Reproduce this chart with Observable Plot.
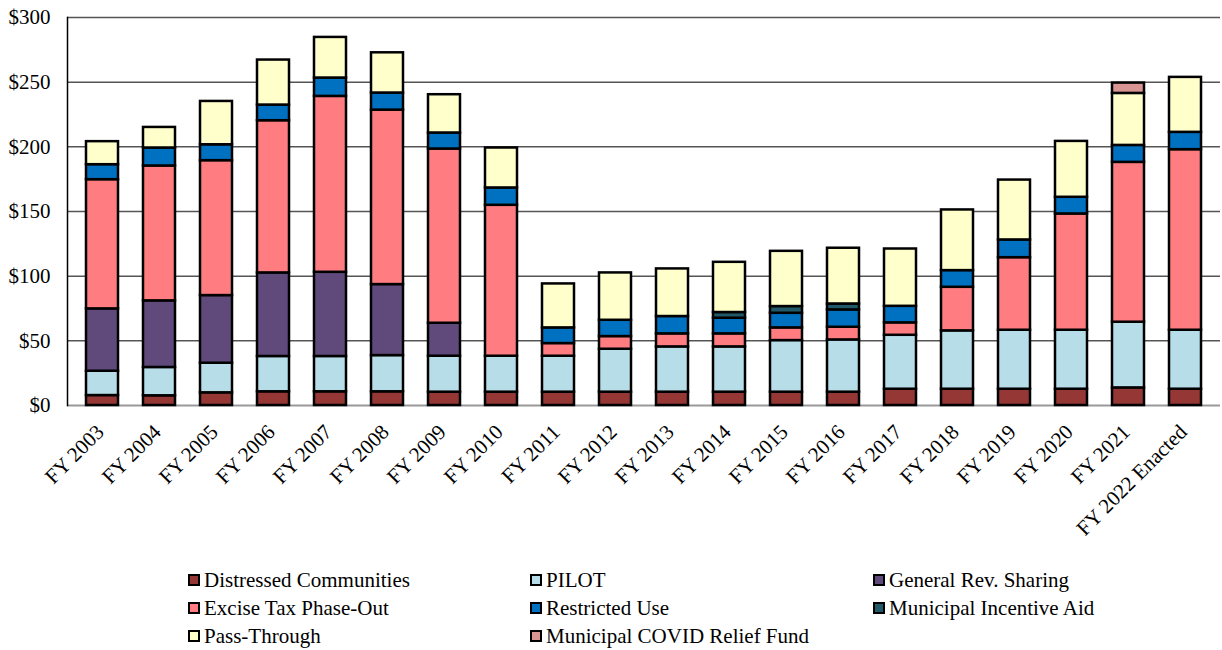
<!DOCTYPE html>
<html>
<head>
<meta charset="utf-8">
<script src="https://cdn.jsdelivr.net/npm/d3@7"></script>
<script src="https://cdn.jsdelivr.net/npm/@observablehq/plot@0.6"></script>
<style>
  body { margin: 0; background: #fff; }
  #wrap { position: relative; width: 1222px; height: 650px; font-family: "Liberation Serif", Tinos, "Times New Roman", "DejaVu Serif", serif; }
  #legend { position: absolute; left: 0; top: 545px; width: 1222px; height: 105px; }
  .item { position: absolute; display: flex; align-items: center; font-size: 21px; color: #000; white-space: nowrap; line-height: 1; }
  .sw { width: 8px; height: 8px; border: 2px solid #000; margin-right: 4px; }
</style>
</head>
<body>
<div id="wrap"><div id="chart"></div><div id="legend"></div></div>
<script>
// Fiscal years on the x axis
const categories = ["FY 2003","FY 2004","FY 2005","FY 2006","FY 2007","FY 2008","FY 2009","FY 2010",
  "FY 2011","FY 2012","FY 2013","FY 2014","FY 2015","FY 2016","FY 2017","FY 2018","FY 2019",
  "FY 2020","FY 2021","FY 2022 Enacted"];

// State aid by program, $ millions (stacked bottom to top)
const distressed = [7.7,7.5,9.8,10.6,10.6,10.6,10.3,10.3,10.3,10.3,10.3,10.3,10.3,10.3,12.6,12.6,12.6,12.6,13.6,12.6];
const pilot      = [18.8,21.9,22.9,27.3,27.3,28.0,27.8,27.8,27.8,33.2,35.0,35.0,39.9,40.4,41.7,45.1,45.6,45.6,50.8,45.6];
const generalRev = [48.2,51.5,52.3,64.6,65.1,54.9,25.5,0,0,0,0,0,0,0,0,0,0,0,0,0];
const exciseTax  = [99.9,104.3,104.3,117.7,136.0,134.9,134.7,116.7,9.8,9.8,10.1,10.1,9.8,9.8,9.6,33.7,56.1,89.9,123.6,139.6];
const restricted = [11.6,13.9,12.3,12.1,14.2,13.2,12.4,13.4,12.1,12.6,13.4,12.1,11.3,13.4,12.8,12.9,13.7,12.9,13.1,13.4];
const incentive  = [0,0,0,0,0,0,0,0,0,0,0,4.4,5.2,4.6,0,0,0,0,0,0];
const passThrough= [17.8,15.9,33.5,34.8,31.4,31.1,29.6,30.9,34.0,36.6,36.8,38.8,42.7,43.1,44.3,46.9,46.3,43.2,40.2,42.5];
const covidRelief= [0,0,0,0,0,0,0,0,0,0,0,0,0,0,0,0,0,0,8.0,0];

const seriesNames = ["Distressed Communities","PILOT","General Rev. Sharing","Excise Tax Phase-Out",
  "Restricted Use","Municipal Incentive Aid","Pass-Through","Municipal COVID Relief Fund"];
const seriesValues = [distressed,pilot,generalRev,exciseTax,restricted,incentive,passThrough,covidRelief];
const seriesColors = ["#953735","#B7DEE8","#604A7B","#FF7C80","#0070C0","#215968","#FFFFCC","#D99594"];

// Legend layout: three columns, row-major
const legendOrder = ["Distressed Communities","PILOT","General Rev. Sharing",
  "Excise Tax Phase-Out","Restricted Use","Municipal Incentive Aid",
  "Pass-Through","Municipal COVID Relief Fund"];

const yTicks = [0,50,100,150,200,250,300];
const serif = '"Liberation Serif", Tinos, "Times New Roman", "DejaVu Serif", serif';

const rows = seriesNames.flatMap((name, s) =>
  categories.map((year, i) => ({year, series: name, value: seriesValues[s][i]}))
).filter(d => d.value > 0);

const chart = Plot.plot({
  width: 1222,
  height: 545,
  marginTop: 17,
  marginBottom: 140,
  marginLeft: 67,
  marginRight: 2,
  style: {fontFamily: serif, fontSize: "21px", color: "#000", background: "#fff"},
  x: {domain: categories, paddingInner: 0.43, paddingOuter: 0.215, label: null, axis: null},
  y: {domain: [0, 300], label: null},
  color: {domain: seriesNames, range: seriesColors},
  marks: [
    Plot.gridY(yTicks.filter(t => t > 0), {stroke: "#555", strokeOpacity: 1, strokeWidth: 1.5}),
    Plot.ruleY([0], {stroke: "#999", strokeWidth: 2}),
    Plot.frame({anchor: "left", stroke: "#000", strokeWidth: 1.5}),
    Plot.barY(rows, {x: "year", y: "value", fill: "series", order: seriesNames,
      stroke: "#000", strokeWidth: 2.5, inset: 0}),
    Plot.axisY({ticks: yTicks, tickSize: 0, tickPadding: 17, tickFormat: d => "$" + d, label: null,
      fontSize: 21, fontFamily: serif}),
    // Slanted fiscal-year labels under each bar
    Plot.text(categories, {x: d => d, frameAnchor: "bottom", rotate: -45, textAnchor: "end",
      lineAnchor: "middle", dx: -2, dy: 23, fontSize: 21, fontFamily: serif, fill: "#000"})
  ]
});
document.getElementById("chart").appendChild(chart);

// Legend below the chart
const colX = [188, 530, 873];
const rowY = [35, 63, 91];
const legend = d3.select("#legend");
legendOrder.forEach((name, k) => {
  const col = k % 3, row = Math.floor(k / 3);
  const item = legend.append("div").attr("class", "item")
    .style("left", colX[col] + "px")
    .style("top", (rowY[row] - 11) + "px")
    .style("height", "22px");
  item.append("div").attr("class", "sw")
    .style("background", seriesColors[seriesNames.indexOf(name)]);
  item.append("span").text(name);
});
</script>
</body>
</html>
